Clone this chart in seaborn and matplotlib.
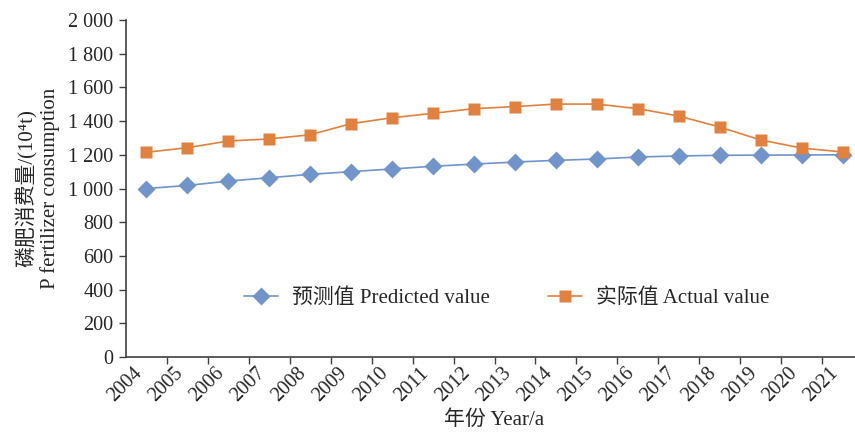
import numpy as np
import pandas as pd
import seaborn as sns
import matplotlib.pyplot as plt
from matplotlib.ticker import FuncFormatter, FixedLocator
from matplotlib.transforms import ScaledTranslation

years = [str(y) for y in range(2004, 2022)]
predicted = [1000, 1018, 1044, 1064, 1084, 1100, 1116, 1132, 1145, 1157, 1167, 1175, 1187, 1193, 1197, 1198, 1199, 1200]
actual = [1215, 1242, 1282, 1294, 1319, 1385, 1420, 1446, 1474, 1486, 1501, 1501, 1474, 1430, 1365, 1288, 1240, 1217]
yticks = list(range(0, 2001, 200))

label_pred = "预测值 Predicted value"
label_act = "实际值 Actual value"

sns.set_theme(style="white")
plt.rcParams['font.family'] = ['Liberation Serif', 'Noto Sans CJK SC']

df = pd.DataFrame({
    "idx": list(range(len(years))) * 2,
    "value": predicted + actual,
    "series": [label_pred] * len(years) + [label_act] * len(years),
})

blue = "#7194CA"
orange = "#E0813F"

fig = plt.figure(figsize=(8.55, 4.34), dpi=100)
ax = fig.add_axes([126/855, 1-357/434, (863-126)/855, (357-20)/434])

sns.lineplot(data=df, x="idx", y="value", hue="series", style="series",
             palette={label_pred: blue, label_act: orange},
             markers={label_pred: "D", label_act: "s"},
             dashes=False, markersize=9, linewidth=1.2,
             markeredgecolor="none", ax=ax)

ax.set_xlim(-0.5, len(years) - 0.5)
ax.set_ylim(0, 2000)
ax.set_yticks(yticks)
ax.yaxis.set_major_formatter(FuncFormatter(lambda v, p: f"{int(v):,}".replace(",", " ")))
ax.set_xticks(range(len(years)))
ax.set_xticklabels(years, rotation=45, ha="right")
shift = ScaledTranslation(4/100, 0, fig.dpi_scale_trans)
for lab in ax.get_xticklabels():
    lab.set_transform(lab.get_transform() + shift)
ax.xaxis.set_minor_locator(FixedLocator(np.arange(0.5, len(years) - 0.5, 1)))
ax.tick_params(axis="x", which="major", length=0, labelsize=14.5, pad=5)
ax.tick_params(axis="x", which="minor", length=5, width=1, color="#404040", direction="out", bottom=True)
ax.tick_params(axis="y", length=5, width=1, color="#404040", direction="out", left=True, labelsize=14.5, pad=4)

for s in ["top", "right"]:
    ax.spines[s].set_visible(False)
for s in ["left", "bottom"]:
    ax.spines[s].set_color("#404040")
    ax.spines[s].set_linewidth(1.2)

ax.set_xlabel("年份 Year/a", fontsize=15, labelpad=3)
ax.set_ylabel("磷肥消费量/(10⁴t)\nP fertilizer consumption", fontsize=15, labelpad=6, linespacing=1.15)

leg = ax.legend(loc="center", bbox_to_anchor=((507-126)/737, (357-298)/337), ncol=2,
                frameon=False, fontsize=15, columnspacing=2.8, handlelength=1.6,
                handletextpad=0.7)
ax.grid(False)

fig.savefig("out.png", dpi=100)
